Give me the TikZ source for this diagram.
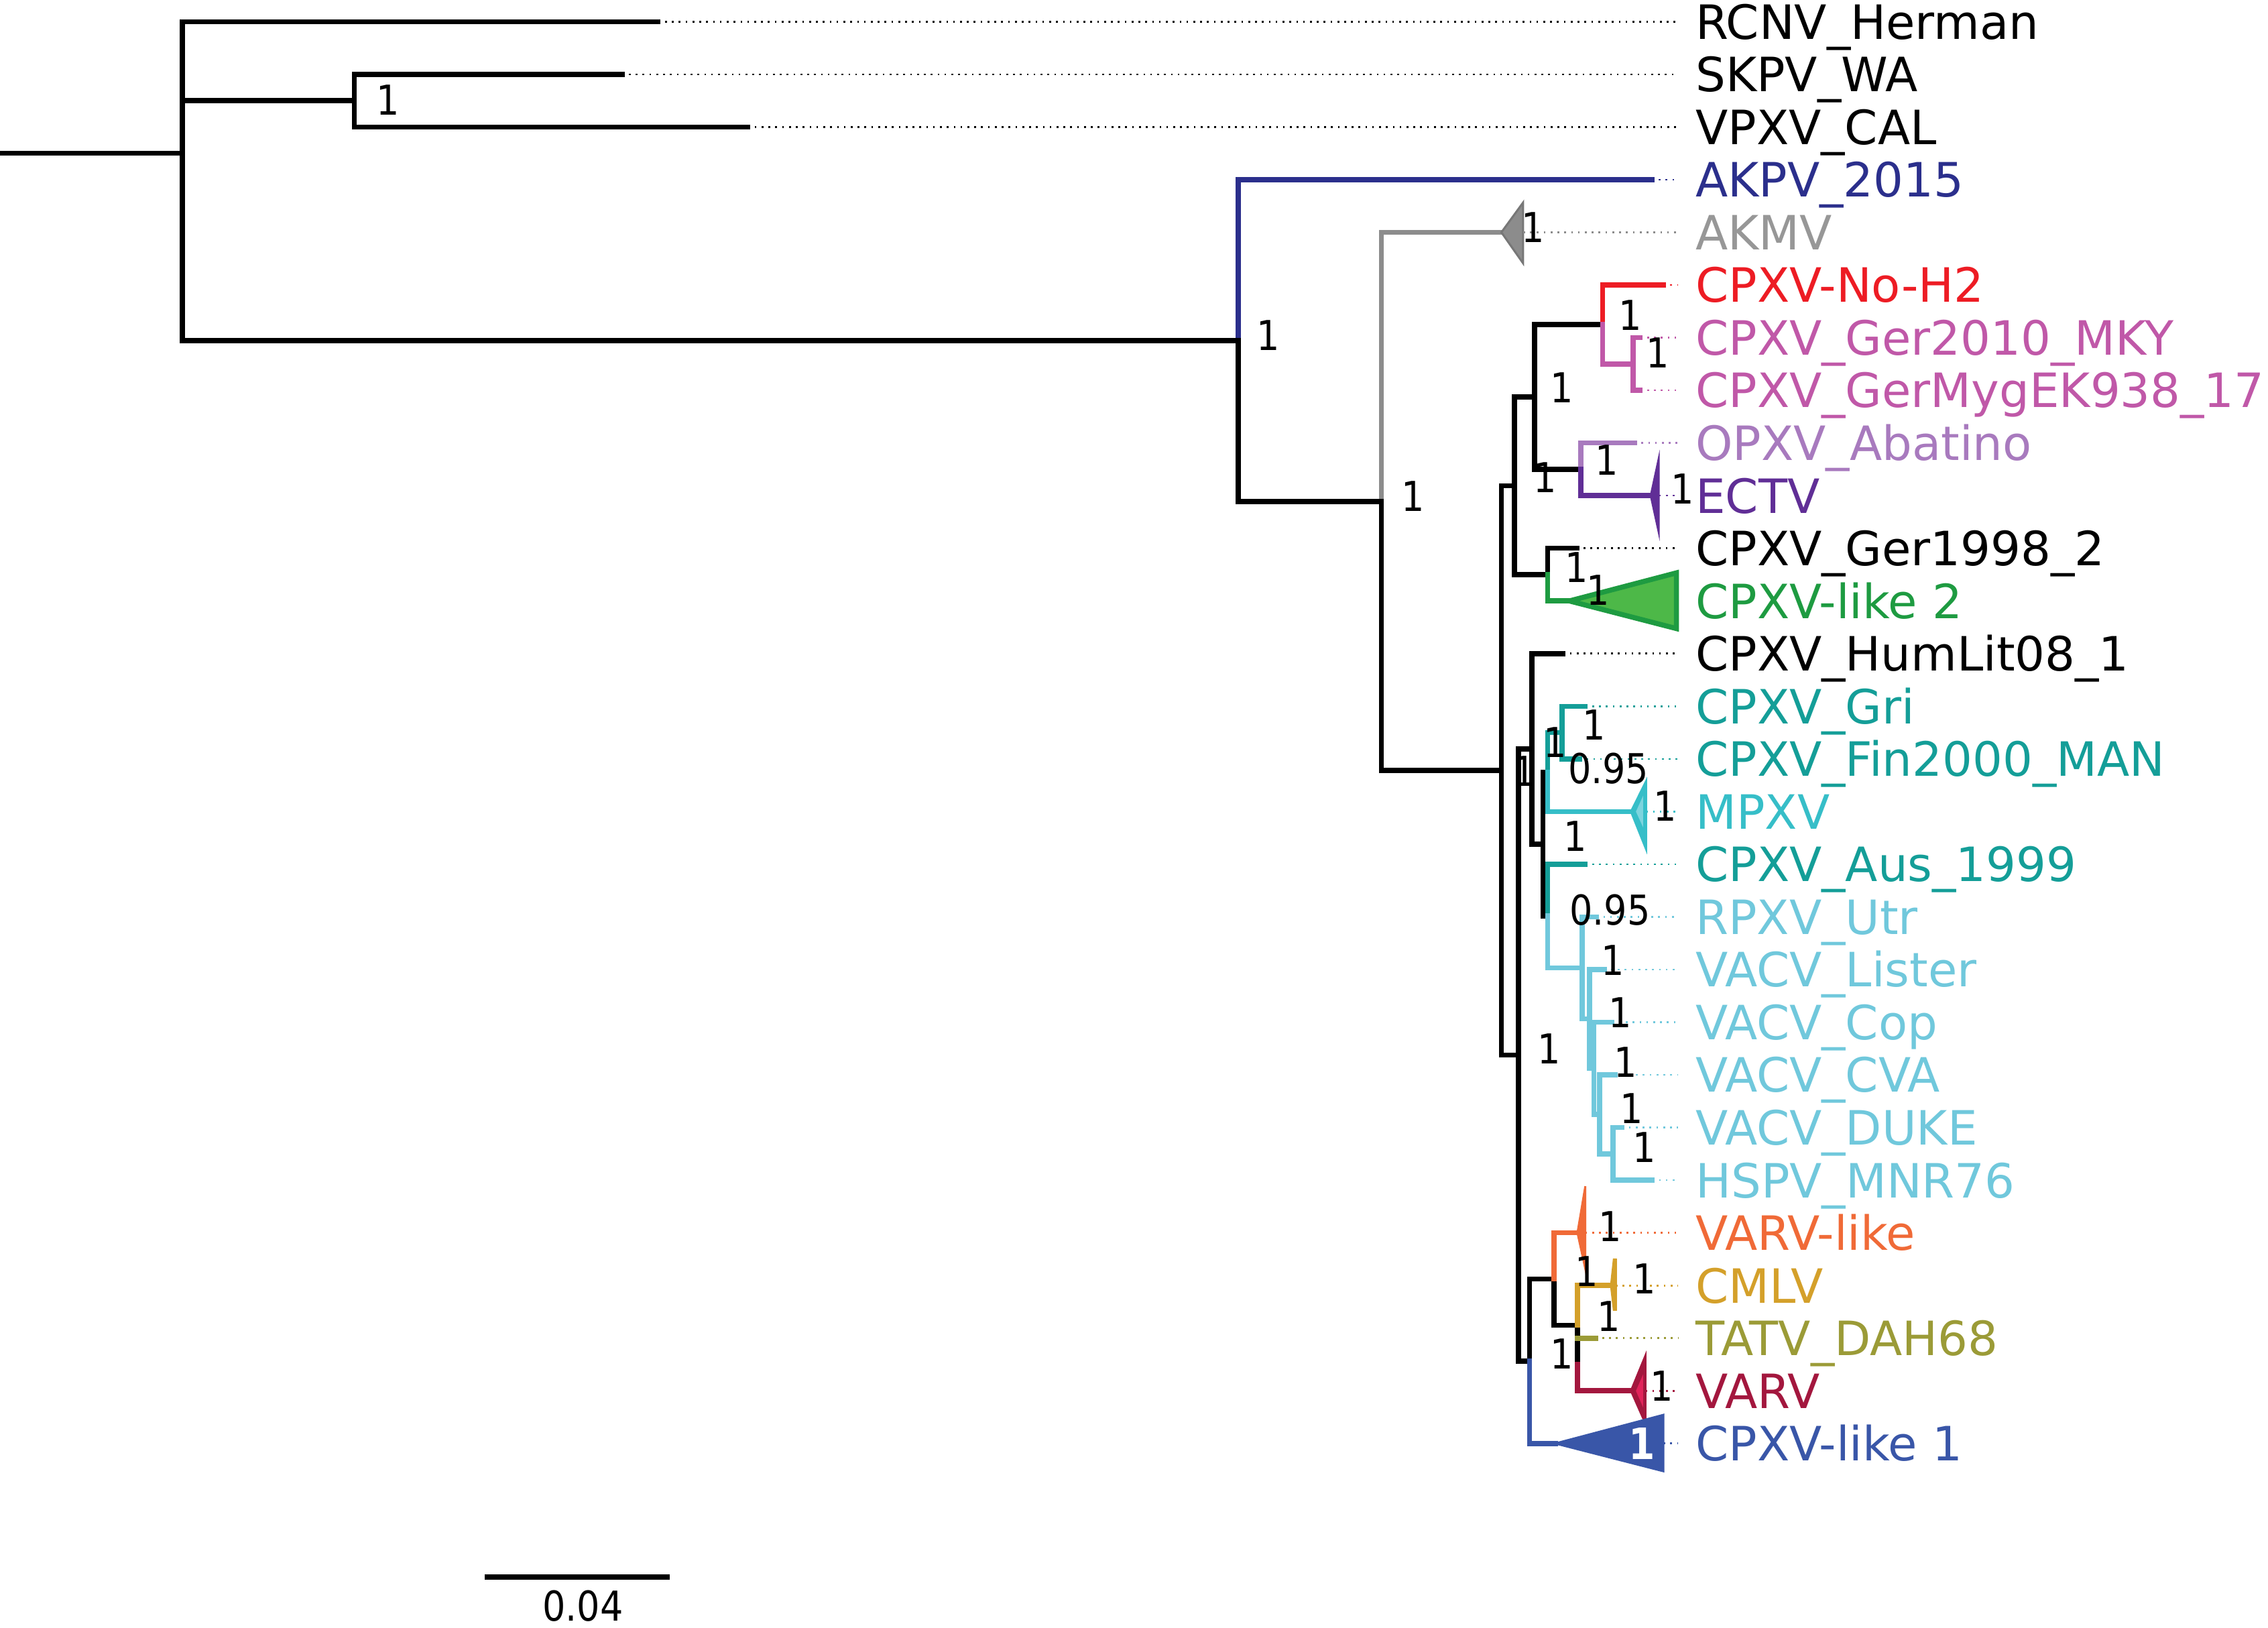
\documentclass[tikz,border=0pt]{standalone}
\usepackage{fontspec}
\setmainfont{DejaVu Sans}
\newfontfamily\bootfont[FakeStretch=0.88]{DejaVu Sans}
\definecolor{navyc}{RGB}{43,47,140}
\definecolor{akmvc}{RGB}{140,140,140}
\definecolor{redc}{RGB}{237,28,36}
\definecolor{pinkc}{RGB}{192,88,168}
\definecolor{opxvc}{RGB}{168,122,190}
\definecolor{ectvc}{RGB}{96,46,150}
\definecolor{greenc}{RGB}{30,155,65}
\definecolor{greenfill}{RGB}{77,184,72}
\definecolor{tealc}{RGB}{20,158,152}
\definecolor{mpxvc}{RGB}{54,190,200}
\definecolor{mpxvin}{RGB}{125,212,222}
\definecolor{vacvc}{RGB}{112,200,220}
\definecolor{orangec}{RGB}{240,106,55}
\definecolor{cmlvc}{RGB}{212,160,42}
\definecolor{tatvc}{RGB}{155,155,55}
\definecolor{varvc}{RGB}{163,23,62}
\definecolor{varvin}{RGB}{225,35,90}
\definecolor{like1c}{RGB}{57,86,168}
\tikzset{
  branch/.style={line width=2pt,line cap=rect,line join=miter},
  leafdot/.style={dotted,line width=0.7pt,shorten >=0.24cm},
  taxon/.style={anchor=base west,inner sep=0pt,yshift=-0.24cm,font=\fontsize{18.6}{20}\selectfont},
  boot/.style={inner sep=0pt,font=\bootfont\fontsize{16.2}{17}\selectfont},
  clade/.style={line width=0.8pt,line join=miter}
}
\begin{document}
\begin{tikzpicture}[x=0.02cm,y=-0.02cm]
\useasboundingbox (0,0) rectangle (1568,1125);
% internal nodes
\coordinate (root) at (0,106);
\coordinate (n0) at (126,106);
\coordinate (n1) at (245,69.6);
\coordinate (n2) at (856,235.4);
\coordinate (n3) at (955,346.6);
\coordinate (n4) at (1038,532.5);
\coordinate (n5) at (1047,335.8);
\coordinate (n6) at (1061,274.4);
\coordinate (n7) at (1108,224.3);
\coordinate (n8) at (1129,251.6);
\coordinate (n9) at (1093,324.4);
\coordinate (n10) at (1070,397.2);
\coordinate (n11) at (1049.7,729.3);
\coordinate (n12) at (1059,517.6);
\coordinate (n13) at (1066.7,583.5);
\coordinate (n14) at (1070,533.7);
\coordinate (n15) at (1080,506.4);
\coordinate (n16) at (1070,633.2);
\coordinate (n17) at (1093.7,669.1);
\coordinate (n18) at (1099,704.3);
\coordinate (n19) at (1102,738.5);
\coordinate (n20) at (1106,770.3);
\coordinate (n21) at (1115.2,797.6);
\coordinate (n22) at (1057.5,941);
\coordinate (n23) at (1074.4,884.1);
\coordinate (n24) at (1090.6,916);
\coordinate (n24v) at (1090.6,943);
% tips (t) and collapsed clades (a = apex, e = edge)
\coordinate (tRCNV) at (455,15);
\coordinate (tSKPV) at (430,51.4);
\coordinate (tVPXV) at (517,87.8);
\coordinate (tAKPV) at (1142,124.2);
\coordinate (aAKMV) at (1038,160.6);   \coordinate (eAKMV) at (1053,160.6);
\coordinate (tNoH) at (1150,197);
\coordinate (tGerMKY) at (1134,233.4);
\coordinate (tGerMyg) at (1134,269.8);
\coordinate (tOPXV) at (1130,306.2);
\coordinate (aECTV) at (1142,342.6);   \coordinate (eECTV) at (1147,342.6);
\coordinate (tGer98) at (1090,379);
\coordinate (aLike2) at (1085,415.4);
\coordinate (tHum) at (1080.6,451.8);
\coordinate (tGri) at (1096,488.2);
\coordinate (tFin) at (1092,524.6);
\coordinate (aMPXV) at (1127.6,561);   \coordinate (eMPXV) at (1138,561);
\coordinate (tAus) at (1096,597.4);
\coordinate (tRPXV) at (1103.7,633.8);
\coordinate (tLister) at (1109,670.2);
\coordinate (tCop) at (1114.5,706.6);
\coordinate (tCVA) at (1116.8,743);
\coordinate (tDUKE) at (1121.4,779.4);
\coordinate (tHSPV) at (1142.2,815.8);
\coordinate (aVARVl) at (1090.6,852.2); \coordinate (eVARVl) at (1096,852.2);
\coordinate (aCMLV) at (1114.5,888.6);  \coordinate (eCMLV) at (1117,888.6);
\coordinate (tTATV) at (1103,925);
\coordinate (aVARV) at (1127.6,961.4);  \coordinate (eVARV) at (1137.6,961.4);
\coordinate (aLike1) at (1075.2,997.8); \coordinate (eLike1) at (1150,997.8);

% branches
\draw[branch] (root) -- (n0) (n0) |- (tRCNV) (n0) |- (n1) (n0) |- (n2)
  (n1) |- (tSKPV) (n1) |- (tVPXV);
\draw[branch,navyc] (n2) |- (tAKPV);
\draw[branch] (n2) |- (n3);
\draw[branch,akmvc] (n3) |- (aAKMV);
\draw[branch] (n3) |- (n4) (n4) |- (n5) (n4) |- (n11)
  (n5) |- (n6) (n5) |- (n10) (n6) |- (n7) (n6) |- (n9);
\draw[branch,redc] (n7) |- (tNoH);
\draw[branch,pinkc] (n7) |- (n8) (n8) |- (tGerMKY) (n8) |- (tGerMyg);
\draw[branch,opxvc] (n9) |- (tOPXV);
\draw[branch,ectvc] (n9) |- (aECTV);
\draw[branch] (n10) |- (tGer98);
\draw[branch,greenc] (n10) |- (aLike2);
\draw[branch] (n11) |- (n12) (n11) |- (n22) (n12) |- (tHum) (n12) |- (n13)
  (n13) |- (n14) (n13) |- (n16);
\draw[branch,tealc] (n14) |- (n15) (n15) |- (tGri) (n15) |- (tFin) (n16) |- (tAus);
\draw[branch,mpxvc] (n14) |- (aMPXV);
\draw[branch,vacvc] (n16) |- (n17) (n17) |- (tRPXV) (n17) |- (n18)
  (n18) |- (tLister) (n18) |- (n19) (n19) |- (tCop) (n19) |- (n20)
  (n20) |- (tCVA) (n20) |- (n21) (n21) |- (tDUKE) (n21) |- (tHSPV);
\draw[branch] (n22) |- (n23) (n23) |- (n24) (n24) -- (n24v);
\draw[branch,like1c] (n22) |- (aLike1);
\draw[branch,orangec] (n23) |- (aVARVl);
\draw[branch,cmlvc] (n24) |- (aCMLV);
\draw[branch,tatvc] (n24 |- tTATV) -- (tTATV);
\draw[branch,varvc] (n24v) |- (aVARV);

% collapsed clades
\filldraw[clade,draw=akmvc!85!black,fill=akmvc] (aAKMV) -- (1053,140) -- (1053,182) -- cycle;
\filldraw[line width=1.6pt,line join=miter,draw=ectvc,fill=ectvc] (aECTV) -- (1146,324) -- (1146,361) -- cycle;
\filldraw[line width=2pt,line join=miter,draw=greenc,fill=greenfill] (aLike2) -- (1159,396) -- (1159,434.5) -- cycle;
\filldraw[clade,draw=mpxvc,fill=mpxvc] (aMPXV) -- (1138,540) -- (1138,587) -- cycle;
\fill[mpxvin] (1131,561) -- (1136,550) -- (1136,572) -- cycle;
\filldraw[clade,draw=orangec,fill=orangec] (aVARVl) -- (1096,820) -- (1096,877) -- cycle;
\filldraw[line width=1.6pt,line join=miter,draw=cmlvc,fill=cmlvc] (aCMLV) -- (1116.5,870) -- (1116.5,906) -- cycle;
\filldraw[clade,draw=varvc,fill=varvc] (aVARV) -- (1137.6,937) -- (1137.6,984) -- cycle;
\fill[varvin] (1131,961.4) -- (1136,950) -- (1136,973) -- cycle;
\filldraw[clade,draw=like1c,fill=like1c] (aLike1) -- (1150,978) -- (1150,1017) -- cycle;

% taxon labels
\foreach \n/\y/\c/\t in {RCNV/15/black/RCNV\_Herman, SKPV/51.4/black/SKPV\_WA,
  VPXV/87.8/black/VPXV\_CAL, AKPV/124.2/navyc/AKPV\_2015, AKMV/160.6/akmvc!90!white/AKMV,
  NoH/197/redc/CPXV-No-H2, GerMKY/233.4/pinkc/CPXV\_Ger2010\_MKY,
  GerMyg/269.8/pinkc/CPXV\_GerMygEK938\_17, OPXV/306.2/opxvc/OPXV\_Abatino,
  ECTV/342.6/ectvc/ECTV, Ger98/379/black/CPXV\_Ger1998\_2, Like2/415.4/greenc/CPXV-like 2,
  Hum/451.8/black/CPXV\_HumLit08\_1, Gri/488.2/tealc/CPXV\_Gri,
  Fin/524.6/tealc/CPXV\_Fin2000\_MAN, MPXV/561/mpxvc/MPXV, Aus/597.4/tealc/CPXV\_Aus\_1999,
  RPXV/633.8/vacvc/RPXV\_Utr, Lister/670.2/vacvc/VACV\_Lister, Cop/706.6/vacvc/VACV\_Cop,
  CVA/743/vacvc/VACV\_CVA, DUKE/779.4/vacvc/VACV\_DUKE, HSPV/815.8/vacvc/HSPV\_MNR76,
  VARVl/852.2/orangec/VARV-like, CMLV/888.6/cmlvc/CMLV, TATV/925/tatvc/TATV\_DAH68,
  VARV/961.4/varvc/VARV, Like1/997.8/like1c/CPXV-like 1}
  \node[taxon,text=\c] (\n) at (1172,\y) {\t};

% leaders
\foreach \p/\n/\c in {tRCNV/RCNV/black, tSKPV/SKPV/black, tVPXV/VPXV/black,
  tAKPV/AKPV/navyc, eAKMV/AKMV/akmvc, tNoH/NoH/redc, tGerMKY/GerMKY/pinkc,
  tGerMyg/GerMyg/pinkc, tOPXV/OPXV/opxvc, eECTV/ECTV/ectvc, tGer98/Ger98/black,
  tHum/Hum/black, tGri/Gri/tealc, tFin/Fin/tealc, eMPXV/MPXV/mpxvc, tAus/Aus/tealc,
  tRPXV/RPXV/vacvc, tLister/Lister/vacvc, tCop/Cop/vacvc, tCVA/CVA/vacvc,
  tDUKE/DUKE/vacvc, tHSPV/HSPV/vacvc, eVARVl/VARVl/orangec, eCMLV/CMLV/cmlvc,
  tTATV/TATV/tatvc, eVARV/VARV/varvc, eLike1/Like1/like1c}
  \draw[leafdot,\c] (\p) -- (\p -| \n.west);

% support values
\foreach \x/\y/\v [count=\i] in {268/69/1, 877/232/1, 977/343/1, 1060/157/1,
  1127/218/1, 1146/244/1, 1080/268/1, 1111/318/1, 1068/330/1, 1163/338/1,
  1090/392/1, 1105/408/1, 1102/501/1, 1075/513/1, 1054/533/1, 1112/531/0.95,
  1151/557/1, 1089/578/1, 1113/629/0.95, 1115/664/1, 1120/700/1, 1124/734/1,
  1128/766/1, 1137/793/1, 1071/725/1, 1113/848/1, 1097/879/1, 1137/884/1,
  1112/910/1, 1080/936/1, 1149/958/1}
  \node[boot] (b\i) at (\x,\y) {\v};
\node[boot,text=white,font=\bootfont\bfseries\fontsize{17}{17}\selectfont] (bLike1) at (1135,998) {1};

% scale bar
\coordinate (sbl) at (335,1090);
\coordinate (sbr) at (463,1090);
\draw[branch,line cap=butt] (sbl) -- (sbr);
\node[boot] (sbtext) at (403,1110) {0.04};
\end{tikzpicture}
\end{document}
